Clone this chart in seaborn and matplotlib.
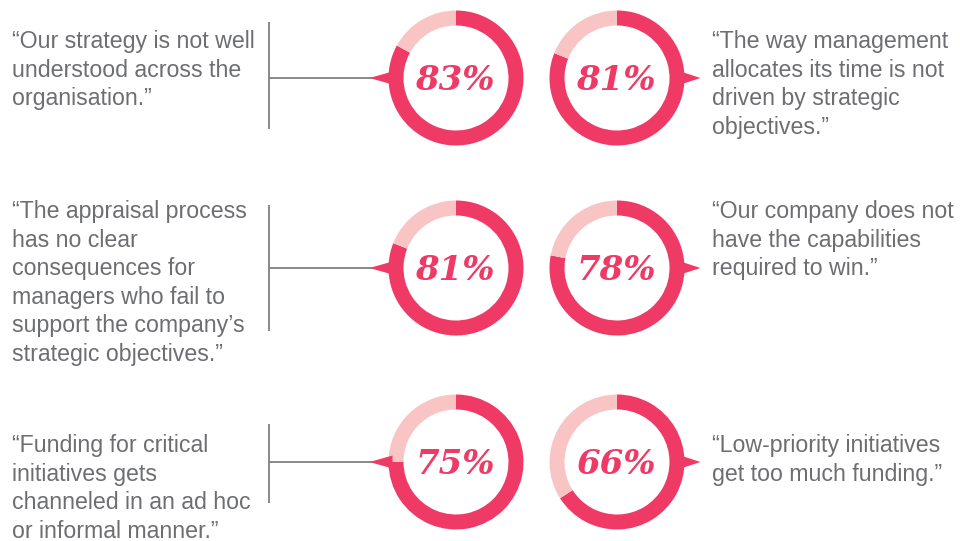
import matplotlib
matplotlib.use("Agg")
import matplotlib.pyplot as plt
import seaborn as sns
import pandas as pd
from matplotlib.patches import Polygon

# ---------------- data ----------------
percents = [83, 81, 81, 78, 75, 66]
sides = ["left", "right", "left", "right", "left", "right"]
rows = [0, 0, 1, 1, 2, 2]
quotes = [
    ["\u201cOur strategy is not well", "understood across the", "organisation.\u201d"],
    ["\u201cThe way management", "allocates its time is not", "driven by strategic", "objectives.\u201d"],
    ["\u201cThe appraisal process", "has no clear", "consequences for", "managers who fail to",
     "support the company\u2019s", "strategic objectives.\u201d"],
    ["\u201cOur company does not", "have the capabilities", "required to win.\u201d"],
    ["\u201cFunding for critical", "initiatives gets", "channeled in an ad hoc", "or informal manner.\u201d"],
    ["\u201cLow-priority initiatives", "get too much funding.\u201d"],
]
df = pd.DataFrame({"pct": percents, "side": sides, "row": rows})

# ---------------- style ----------------
sns.set_theme(style="white")
plt.rcParams["font.family"] = ["Liberation Sans", "DejaVu Sans"]
DARK = "#EF3A65"
LIGHT = "#F9C5C4"
GREY_TXT = "#6D6E71"
GREY_LINE = "#808080"

W, H = 960, 541
fig = plt.figure(figsize=(W / 100, H / 100), dpi=100)
ax = fig.add_axes([0, 0, 1, 1])

# layout (pixel from top)
row_cy = [78, 268, 462]
col_cx = {"left": 456, "right": 617}
R, RING = 67.5, 15
first_baseline = [48, 218, 452]
line_step = 28.6
text_x = {"left": 12, "right": 712}
vline = [(22, 129), (205, 331), (424, 503)]
vline_x = 269

def Y(y):
    return H - y

for i, r in df.iterrows():
    cx = col_cx[r.side]
    cy = row_cy[r.row]
    ax.pie([r.pct, 100 - r.pct], colors=[DARK, LIGHT], startangle=90,
           counterclock=False, center=(cx, Y(cy)), radius=R, frame=True,
           wedgeprops=dict(width=RING, edgecolor="none", linewidth=0))
    ax.text(cx - 1, Y(cy + 12), f"{r.pct}%", ha="center", va="baseline",
            fontsize=24.5, fontweight="bold", fontstyle="italic",
            family=["DejaVu Serif"], color=DARK)
    # pointer triangle
    if r.side == "left":
        tip = cx - R - 19
        base = cx - R + 4
        ax.plot([vline_x, tip + 2], [Y(cy), Y(cy)], color=GREY_LINE, lw=1.3,
                solid_capstyle="butt")
        y0, y1 = vline[r.row]
        ax.plot([vline_x, vline_x], [Y(y0), Y(y1)], color=GREY_LINE, lw=1.3,
                solid_capstyle="butt")
    else:
        tip = cx + R + 16
        base = cx + R - 4
    tri = Polygon([(tip, Y(cy)), (base, Y(cy) + 6.5), (base, Y(cy) - 6.5)],
                  closed=True, facecolor=DARK, edgecolor="none")
    ax.add_patch(tri)
    # quote text
    for k, line in enumerate(quotes[i]):
        ax.text(text_x[r.side], Y(first_baseline[r.row] + k * line_step), line,
                ha="left", va="baseline", fontsize=16.7, color=GREY_TXT)

ax.set_xlim(0, W)
ax.set_ylim(0, H)
ax.set_aspect("equal")
ax.axis("off")
fig.savefig("out.png", dpi=100, facecolor="white")
